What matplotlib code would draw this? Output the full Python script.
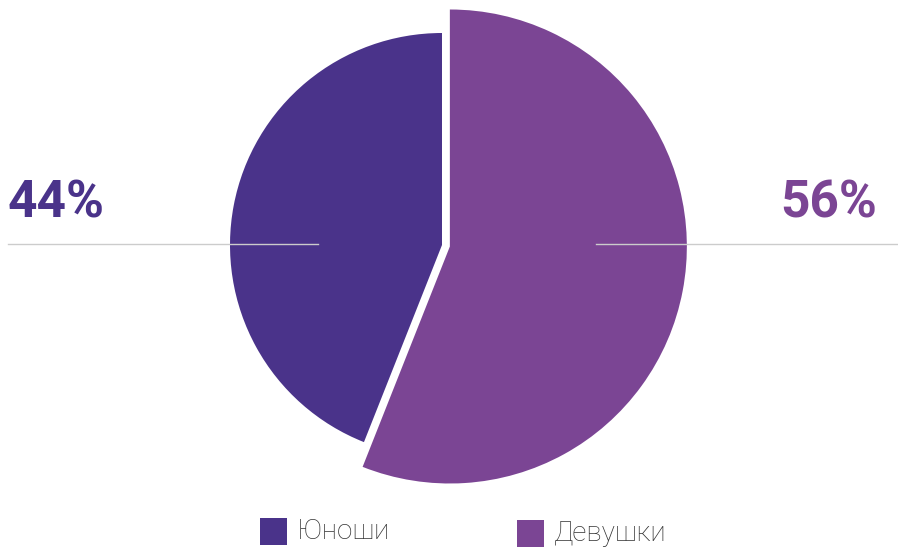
import matplotlib.pyplot as plt
from matplotlib.patches import Rectangle

# Data
labels = ['Юноши', 'Девушки']
shares = [44, 56]
colors = ['#4a338a', '#7b4594']

W, H = 898, 547
fig = plt.figure(figsize=(W / 100, H / 100), dpi=100)
ax = fig.add_axes([0, 0, 1, 1])

cx, cy = 442, H - 245
r_small = 212
r_big = 237
gap = 8

wedges, _ = ax.pie(shares, colors=colors, startangle=90, counterclock=True,
                   radius=r_small, center=(cx, cy),
                   explode=[0, gap],
                   wedgeprops=dict(linewidth=0))
# the selected slice is drawn larger
wedges[1].set_radius(r_big)

# leader lines
ax.plot([8, 318], [H - 244, H - 244], color='#cccccc', lw=1, zorder=5)
ax.plot([596, 897], [H - 244, H - 244], color='#cccccc', lw=1, zorder=5)

big_font = ['Roboto', 'DejaVu Sans']
ax.text(8, H - 218, f'{shares[0]}%', color=colors[0], fontsize=37,
        fontweight='bold', family=big_font, ha='left', va='baseline')
ax.text(877, H - 218, f'{shares[1]}%', color=colors[1], fontsize=37,
        fontweight='bold', family=big_font, ha='right', va='baseline')

# legend
leg_items = [(260, 518), (517, 520)]
for (lx, ly), lab, col in zip(leg_items, labels, colors):
    ax.add_patch(Rectangle((lx, H - ly - 27), 27, 27, color=col, lw=0))
    ax.text(lx + 37, H - ly - 13.5, lab, color='#333333', fontsize=20,
            fontweight='light', family=big_font, ha='left', va='center')

ax.set_xlim(0, W)
ax.set_ylim(0, H)
ax.set_aspect('equal')
ax.axis('off')

fig.savefig('out.png', dpi=100)
